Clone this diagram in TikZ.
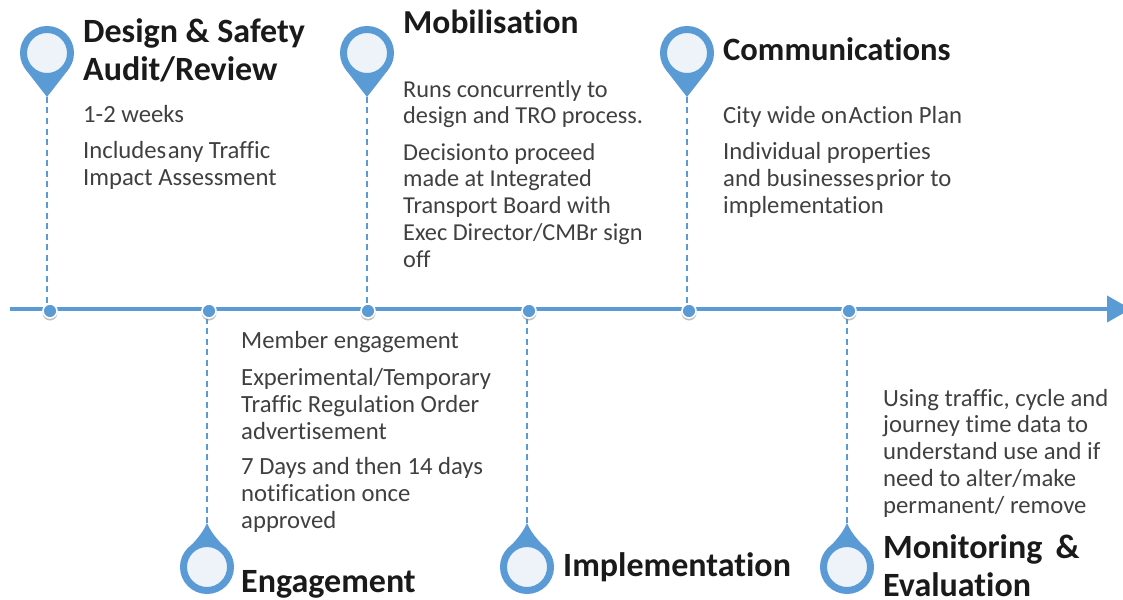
\documentclass[tikz,border=0pt]{standalone}
\usepackage{fontspec}
\setmainfont[RawFeature=-liga]{Carlito}
\usetikzlibrary{arrows.meta,calc}
\definecolor{pinblue}{HTML}{5B9BD5}
\definecolor{pinfill}{HTML}{EEF3FA}
\definecolor{bodygrey}{HTML}{404040}
\definecolor{headblack}{HTML}{1A1A1A}
\newcommand{\ts}{\hspace{1.5pt}}
\tikzset{
  x=1pt,y=-1pt,
  bodytext/.style={anchor=base west,inner sep=0pt,align=left,text=bodygrey,font=\fontsize{24.7}{26.75}\selectfont},
  bodynarrow/.style={bodytext,font=\fontsize{24.3}{26.75}\selectfont},
  headtext/.style={anchor=base west,inner sep=0pt,align=left,text=headblack,font=\fontsize{34}{38}\selectfont\bfseries},
  stem/.style={draw=pinblue,line width=1.3pt,dash pattern=on 6pt off 4.5pt},
  dotmark/.style={circle,fill=pinblue,draw=white,line width=1.6pt,minimum size=14pt,inner sep=0pt},
  dotshadow/.style={circle,fill=black!25,minimum size=15pt,inner sep=0pt},
  pinface/.style={circle,fill=pinfill,draw=pinblue,line width=7pt,minimum size=47pt,inner sep=0pt},
  pinbody/.style={fill=pinblue,draw=none},
}
% name, x, circle y
\newcommand{\pinup}[3]{% circle above, straight sides
  \coordinate (#1tip) at (#2,#3+44);
  \coordinate (#1c) at (#2,#3);
  \fill[pinbody] (#1tip) -- ($(#1c)+(-21.3,16.6)$) -- ($(#1c)+(21.3,16.6)$) -- cycle;
  \node[pinface] (#1) at (#1c) {};
}
\newcommand{\pindown}[3]{% circle below, tip on top, slightly hollow sides
  \coordinate (#1tip) at (#2,#3-44);
  \coordinate (#1c) at (#2,#3);
  \fill[pinbody] (#1tip) .. controls ($(#1c)+(-5,-32)$) and ($(#1c)+(-14,-24)$) .. ($(#1c)+(-22,-15)$)
    -- ($(#1c)+(22,-15)$) .. controls ($(#1c)+(14,-24)$) and ($(#1c)+(5,-32)$) .. (#1tip) -- cycle;
  \node[pinface] (#1) at (#1c) {};
}
\begin{document}
\begin{tikzpicture}
\useasboundingbox (0,0) rectangle (1123,599);
% axis
\coordinate (axisstart) at (10,309);
\coordinate (axisend) at (1131,309);
\draw[pinblue,line width=4pt,-{Triangle[length=24pt,width=26pt]}] (axisstart) -- (axisend);
% dots
\foreach \n/\x in {d1/50,d2/209,d3/368,d4/529,d5/689,d6/849}{
  \node[dotshadow] at (\x,313) {};
  \node[dotmark] (\n) at (\x,311) {};
}
% pins
\pinup{p1}{47}{53}
\pindown{p2}{207}{567}
\pinup{p3}{367}{53}
\pindown{p4}{527}{567}
\pinup{p5}{687}{53}
\pindown{p6}{847}{567}
% stems
\draw[stem] (p1tip) -- (47,303);
\draw[stem] (p2tip) -- (207,319);
\draw[stem] (p3tip) -- (367,303);
\draw[stem] (p4tip) -- (527,319);
\draw[stem] (p5tip) -- (687,303);
\draw[stem] (p6tip) -- (847,319);
% headings (a multi-line node's base is its last line)
\node[headtext] (h1) at (83,81) {Design \& Safety\\Audit/Review};
\node[headtext,font=\fontsize{33.5}{38}\selectfont\bfseries] (h3) at (403,34) {Mobilisation};
\node[headtext,font=\fontsize{32.6}{38}\selectfont\bfseries] (h5) at (723,61) {Communications};
\node[headtext] (h2) at (241,592) {Engagement};
\node[headtext] (h4) at (563,576) {Implementation};
\node[headtext] (h6) at (883,596) {Monitoring \,\&\\Evaluation};
% body
\node[bodytext] (b1a) at (83,122) {1-2 weeks};
\node[bodytext] (b1b) at (83,185) {Includes\ts any Traffic\\Impact Assessment};
\node[bodynarrow] (b3a) at (403,124) {Runs concurrently to\\design and TRO process.};
\node[bodynarrow] (b3b) at (403,267) {Decision\ts to proceed\\made at Integrated\\Transport Board with\\Exec Director/CMBr sign\\off};
\node[bodytext] (b5a) at (723,123) {City wide on\ts Action Plan};
\node[bodytext] (b5b) at (723,213) {Individual properties\\and businesses\ts prior to\\implementation};
\node[bodytext] (b2a) at (241,348) {Member engagement};
\node[bodytext] (b2b) at (241,439) {Experimental/Temporary\\Traffic Regulation Order\\advertisement};
\node[bodytext] (b2c) at (241,528) {7 Days and then 14 days\\notification once\\approved};
\node[bodytext] (b6) at (883,513) {Using traffic, cycle and\\journey time data to\\understand use and if\\need to alter/make\\permanent/ remove};
\end{tikzpicture}
\end{document}
